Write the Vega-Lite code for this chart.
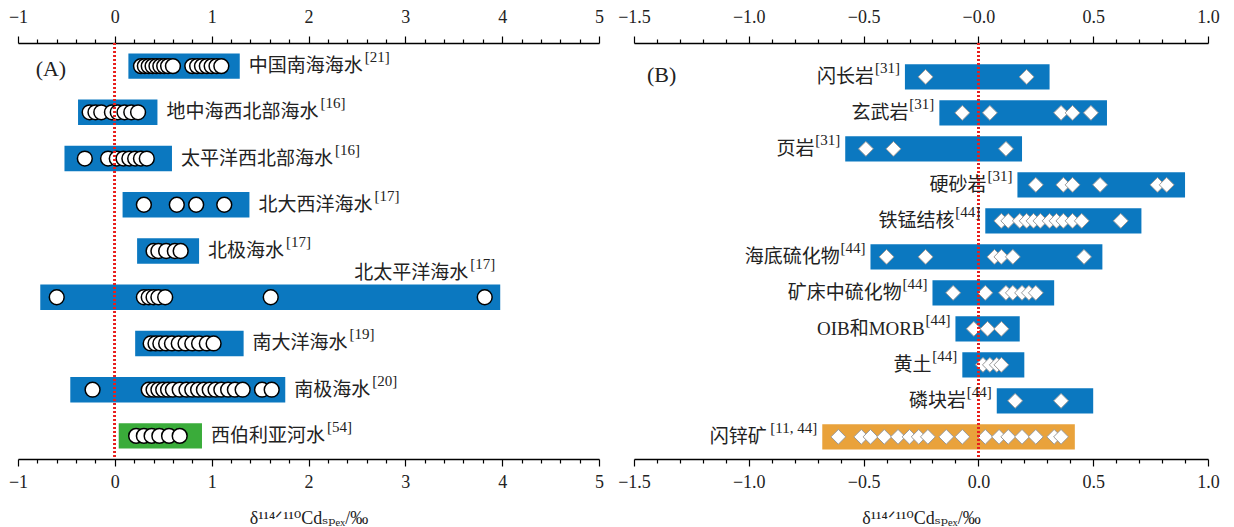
{
  "$schema": "https://vega.github.io/schema/vega-lite/v6.json",
  "background": "white",
  "padding": {"left": 8, "top": 8, "right": 0, "bottom": 0},
  "bounds": "flush",
  "spacing": 35,
  "config": {
    "view": {"stroke": null},
    "axis": {
      "grid": false,
      "domainColor": "#000",
      "domainWidth": 1.5,
      "tickColor": "#000",
      "tickWidth": 1.2,
      "tickSize": 7,
      "labelFont": "Liberation Serif",
      "labelFontSize": 18,
      "labelColor": "#222",
      "labelFlush": false,
      "labelOverlap": false,
      "labelBound": false,
      "labelPadding": 6,
      "titleFont": "Liberation Serif, DejaVu Serif",
      "titleFontSize": 18,
      "titleFontWeight": "normal",
      "titleColor": "#222"
    }
  },
  "datasets": {
    "barsA": [
      {"cat": "中国南海海水", "lo": 0.14, "hi": 1.29, "c": "blue", "ref": "[21]"},
      {"cat": "地中海西北部海水", "lo": -0.38, "hi": 0.44, "c": "blue", "ref": "[16]"},
      {"cat": "太平洋西北部海水", "lo": -0.52, "hi": 0.59, "c": "blue", "ref": "[16]"},
      {"cat": "北大西洋海水", "lo": 0.08, "hi": 1.39, "c": "blue", "ref": "[17]"},
      {"cat": "北极海水", "lo": 0.23, "hi": 0.87, "c": "blue", "ref": "[17]"},
      {"cat": "北太平洋海水", "lo": -0.77, "hi": 3.98, "c": "blue", "ref": "[17]"},
      {"cat": "南大洋海水", "lo": 0.21, "hi": 1.33, "c": "blue", "ref": "[19]"},
      {"cat": "南极海水", "lo": -0.46, "hi": 1.76, "c": "blue", "ref": "[20]"},
      {"cat": "西伯利亚河水", "lo": 0.04, "hi": 0.9, "c": "green", "ref": "[54]"}
    ],
    "ptsA": [
      {"cat": "中国南海海水", "v": 0.27}, {"cat": "中国南海海水", "v": 0.31}, {"cat": "中国南海海水", "v": 0.35}, {"cat": "中国南海海水", "v": 0.39}, {"cat": "中国南海海水", "v": 0.43}, {"cat": "中国南海海水", "v": 0.47}, {"cat": "中国南海海水", "v": 0.51}, {"cat": "中国南海海水", "v": 0.55}, {"cat": "中国南海海水", "v": 0.6}, {"cat": "中国南海海水", "v": 0.8}, {"cat": "中国南海海水", "v": 0.85}, {"cat": "中国南海海水", "v": 0.9}, {"cat": "中国南海海水", "v": 0.95}, {"cat": "中国南海海水", "v": 1.0}, {"cat": "中国南海海水", "v": 1.05}, {"cat": "中国南海海水", "v": 1.1},
      {"cat": "地中海西北部海水", "v": -0.26}, {"cat": "地中海西北部海水", "v": -0.2}, {"cat": "地中海西北部海水", "v": -0.14}, {"cat": "地中海西北部海水", "v": -0.03}, {"cat": "地中海西北部海水", "v": 0.03}, {"cat": "地中海西北部海水", "v": 0.1}, {"cat": "地中海西北部海水", "v": 0.17}, {"cat": "地中海西北部海水", "v": 0.24},
      {"cat": "太平洋西北部海水", "v": -0.31}, {"cat": "太平洋西北部海水", "v": -0.07}, {"cat": "太平洋西北部海水", "v": 0.02}, {"cat": "太平洋西北部海水", "v": 0.09}, {"cat": "太平洋西北部海水", "v": 0.15}, {"cat": "太平洋西北部海水", "v": 0.21}, {"cat": "太平洋西北部海水", "v": 0.27}, {"cat": "太平洋西北部海水", "v": 0.33},
      {"cat": "北大西洋海水", "v": 0.3}, {"cat": "北大西洋海水", "v": 0.64}, {"cat": "北大西洋海水", "v": 0.84}, {"cat": "北大西洋海水", "v": 1.13},
      {"cat": "北极海水", "v": 0.4}, {"cat": "北极海水", "v": 0.45}, {"cat": "北极海水", "v": 0.53}, {"cat": "北极海水", "v": 0.62}, {"cat": "北极海水", "v": 0.68},
      {"cat": "北太平洋海水", "v": -0.6}, {"cat": "北太平洋海水", "v": 0.3}, {"cat": "北太平洋海水", "v": 0.35}, {"cat": "北太平洋海水", "v": 0.4}, {"cat": "北太平洋海水", "v": 0.45}, {"cat": "北太平洋海水", "v": 0.52}, {"cat": "北太平洋海水", "v": 1.61}, {"cat": "北太平洋海水", "v": 3.82},
      {"cat": "南大洋海水", "v": 0.37}, {"cat": "南大洋海水", "v": 0.42}, {"cat": "南大洋海水", "v": 0.47}, {"cat": "南大洋海水", "v": 0.53}, {"cat": "南大洋海水", "v": 0.59}, {"cat": "南大洋海水", "v": 0.66}, {"cat": "南大洋海水", "v": 0.73}, {"cat": "南大洋海水", "v": 0.8}, {"cat": "南大洋海水", "v": 0.87}, {"cat": "南大洋海水", "v": 0.95}, {"cat": "南大洋海水", "v": 1.02},
      {"cat": "南极海水", "v": -0.23}, {"cat": "南极海水", "v": 0.35}, {"cat": "南极海水", "v": 0.4}, {"cat": "南极海水", "v": 0.45}, {"cat": "南极海水", "v": 0.5}, {"cat": "南极海水", "v": 0.55}, {"cat": "南极海水", "v": 0.6}, {"cat": "南极海水", "v": 0.67}, {"cat": "南极海水", "v": 0.74}, {"cat": "南极海水", "v": 0.8}, {"cat": "南极海水", "v": 0.86}, {"cat": "南极海水", "v": 0.92}, {"cat": "南极海水", "v": 0.98}, {"cat": "南极海水", "v": 1.04}, {"cat": "南极海水", "v": 1.1}, {"cat": "南极海水", "v": 1.17}, {"cat": "南极海水", "v": 1.24}, {"cat": "南极海水", "v": 1.32}, {"cat": "南极海水", "v": 1.52}, {"cat": "南极海水", "v": 1.62},
      {"cat": "西伯利亚河水", "v": 0.22}, {"cat": "西伯利亚河水", "v": 0.3}, {"cat": "西伯利亚河水", "v": 0.38}, {"cat": "西伯利亚河水", "v": 0.46}, {"cat": "西伯利亚河水", "v": 0.56}, {"cat": "西伯利亚河水", "v": 0.67}
    ],
    "barsB": [
      {"cat": "闪长岩", "lo": -0.32, "hi": 0.31, "c": "blue", "ref": "[31]"},
      {"cat": "玄武岩", "lo": -0.17, "hi": 0.56, "c": "blue", "ref": "[31]"},
      {"cat": "页岩", "lo": -0.58, "hi": 0.19, "c": "blue", "ref": "[31]"},
      {"cat": "硬砂岩", "lo": 0.17, "hi": 0.9, "c": "blue", "ref": "[31]"},
      {"cat": "铁锰结核", "lo": 0.03, "hi": 0.71, "c": "blue", "ref": "[44]"},
      {"cat": "海底硫化物", "lo": -0.47, "hi": 0.54, "c": "blue", "ref": "[44]"},
      {"cat": "矿床中硫化物", "lo": -0.2, "hi": 0.33, "c": "blue", "ref": "[44]"},
      {"cat": "OIB和MORB", "lo": -0.1, "hi": 0.18, "c": "blue", "ref": "[44]"},
      {"cat": "黄土", "lo": -0.07, "hi": 0.2, "c": "blue", "ref": "[44]"},
      {"cat": "磷块岩", "lo": 0.08, "hi": 0.5, "c": "blue", "ref": "[44]"},
      {"cat": "闪锌矿", "lo": -0.68, "hi": 0.42, "c": "orange", "ref": "[11, 44]"}
    ],
    "ptsB": [
      {"cat": "闪长岩", "v": -0.23}, {"cat": "闪长岩", "v": 0.21},
      {"cat": "玄武岩", "v": -0.07}, {"cat": "玄武岩", "v": 0.05}, {"cat": "玄武岩", "v": 0.36}, {"cat": "玄武岩", "v": 0.41}, {"cat": "玄武岩", "v": 0.49},
      {"cat": "页岩", "v": -0.49}, {"cat": "页岩", "v": -0.37}, {"cat": "页岩", "v": 0.12},
      {"cat": "硬砂岩", "v": 0.25}, {"cat": "硬砂岩", "v": 0.37}, {"cat": "硬砂岩", "v": 0.41}, {"cat": "硬砂岩", "v": 0.53}, {"cat": "硬砂岩", "v": 0.78}, {"cat": "硬砂岩", "v": 0.82},
      {"cat": "铁锰结核", "v": 0.1}, {"cat": "铁锰结核", "v": 0.13}, {"cat": "铁锰结核", "v": 0.18}, {"cat": "铁锰结核", "v": 0.21}, {"cat": "铁锰结核", "v": 0.24}, {"cat": "铁锰结核", "v": 0.27}, {"cat": "铁锰结核", "v": 0.31}, {"cat": "铁锰结核", "v": 0.34}, {"cat": "铁锰结核", "v": 0.37}, {"cat": "铁锰结核", "v": 0.41}, {"cat": "铁锰结核", "v": 0.45}, {"cat": "铁锰结核", "v": 0.62},
      {"cat": "海底硫化物", "v": -0.4}, {"cat": "海底硫化物", "v": -0.23}, {"cat": "海底硫化物", "v": 0.07}, {"cat": "海底硫化物", "v": 0.1}, {"cat": "海底硫化物", "v": 0.15}, {"cat": "海底硫化物", "v": 0.46},
      {"cat": "矿床中硫化物", "v": -0.11}, {"cat": "矿床中硫化物", "v": 0.03}, {"cat": "矿床中硫化物", "v": 0.12}, {"cat": "矿床中硫化物", "v": 0.15}, {"cat": "矿床中硫化物", "v": 0.19}, {"cat": "矿床中硫化物", "v": 0.22}, {"cat": "矿床中硫化物", "v": 0.25},
      {"cat": "OIB和MORB", "v": -0.02}, {"cat": "OIB和MORB", "v": 0.04}, {"cat": "OIB和MORB", "v": 0.1},
      {"cat": "黄土", "v": 0.02}, {"cat": "黄土", "v": 0.05}, {"cat": "黄土", "v": 0.08}, {"cat": "黄土", "v": 0.1},
      {"cat": "磷块岩", "v": 0.16}, {"cat": "磷块岩", "v": 0.36},
      {"cat": "闪锌矿", "v": -0.61}, {"cat": "闪锌矿", "v": -0.51}, {"cat": "闪锌矿", "v": -0.47}, {"cat": "闪锌矿", "v": -0.41}, {"cat": "闪锌矿", "v": -0.35}, {"cat": "闪锌矿", "v": -0.3}, {"cat": "闪锌矿", "v": -0.26}, {"cat": "闪锌矿", "v": -0.22}, {"cat": "闪锌矿", "v": -0.14}, {"cat": "闪锌矿", "v": -0.07}, {"cat": "闪锌矿", "v": 0.03}, {"cat": "闪锌矿", "v": 0.09}, {"cat": "闪锌矿", "v": 0.13}, {"cat": "闪锌矿", "v": 0.19}, {"cat": "闪锌矿", "v": 0.25}, {"cat": "闪锌矿", "v": 0.33}, {"cat": "闪锌矿", "v": 0.36}
    ]
  },
  "hconcat": [
    {
      "width": 581,
      "height": 416,
      "resolve": {"axis": {"x": "independent"}},
      "layer": [
        {
          "data": {"name": "barsA"},
          "mark": {"type": "bar", "orient": "horizontal"},
          "encoding": {
            "y": {"field": "cat", "type": "nominal", "sort": null, "axis": null,
                  "scale": {"domain": ["中国南海海水", "地中海西北部海水", "太平洋西北部海水", "北大西洋海水", "北极海水", "北太平洋海水", "南大洋海水", "南极海水", "西伯利亚河水"], "paddingInner": 0.45, "paddingOuter": 0.225}},
            "x": {"field": "lo", "type": "quantitative", "title": null,
                  "scale": {"domain": [-1, 5], "nice": false, "zero": false},
                  "axis": {"orient": "top", "values": [-1, 0, 1, 2, 3, 4, 5], "format": "d", "labelPadding": 10}},
            "x2": {"field": "hi"},
            "color": {"field": "c", "type": "nominal", "legend": null,
                      "scale": {"domain": ["blue", "green", "orange"], "range": ["#0b78c0", "#3aac3a", "#e9a23b"]}}
          }
        },
        {
          "data": {"name": "ptsA"},
          "mark": {"type": "point", "shape": "circle", "filled": true, "fill": "white", "stroke": "#000", "strokeWidth": 1.5, "size": 220, "opacity": 1},
          "encoding": {
            "y": {"field": "cat", "type": "nominal", "sort": null, "axis": null},
            "x": {"field": "v", "type": "quantitative",
                  "title": "δ¹¹⁴ᐟ¹¹⁰Cdₛₚₑₓ/‰",
                  "axis": {"orient": "bottom", "values": [-1, 0, 1, 2, 3, 4, 5], "format": "d", "labelPadding": 7, "titlePadding": 18}}
          }
        },
        {
          "data": {"name": "barsA"},
          "mark": {"type": "rule", "color": "#e8201c", "strokeWidth": 2.2, "strokeDash": [2, 2]},
          "encoding": {
            "x": {"datum": 0, "type": "quantitative", "axis": null}
          }
        },
        {
          "data": {"name": "barsA"},
          "transform": [{"filter": "datum.cat !== '北太平洋海水'"}],
          "mark": {"type": "text", "align": "left", "baseline": "middle", "dx": 9, "font": "Liberation Serif, Noto Sans CJK SC", "fontSize": 19, "color": "#222"},
          "encoding": {
            "y": {"field": "cat", "type": "nominal", "sort": null, "axis": null},
            "x": {"field": "hi", "type": "quantitative", "title": null,
                  "axis": {"orient": "top", "values": [-0.8, -0.6, -0.4, -0.2, 0.2, 0.4, 0.6, 0.8, 1.2, 1.4, 1.6, 1.8, 2.2, 2.4, 2.6, 2.8, 3.2, 3.4, 3.6, 3.8, 4.2, 4.4, 4.6, 4.8], "labels": false, "tickSize": 4, "domain": false}},
            "text": {"field": "cat"}
          }
        },
        {
          "data": {"name": "barsA"},
          "transform": [{"filter": "datum.cat !== '北太平洋海水'"}],
          "mark": {"type": "text", "align": "left", "baseline": "middle", "dx": {"expr": "11 + length(datum.cat) * 19"}, "dy": -9, "font": "Liberation Serif", "fontSize": 15, "color": "#222"},
          "encoding": {
            "y": {"field": "cat", "type": "nominal", "sort": null, "axis": null},
            "x": {"field": "hi", "type": "quantitative", "title": null,
                  "axis": {"orient": "bottom", "values": [-0.8, -0.6, -0.4, -0.2, 0.2, 0.4, 0.6, 0.8, 1.2, 1.4, 1.6, 1.8, 2.2, 2.4, 2.6, 2.8, 3.2, 3.4, 3.6, 3.8, 4.2, 4.4, 4.6, 4.8], "labels": false, "tickSize": 4, "domain": false}},
            "text": {"field": "ref"}
          }
        },
        {
          "data": {"name": "barsA"},
          "transform": [{"filter": "datum.cat === '北太平洋海水'"}],
          "mark": {"type": "text", "align": "right", "baseline": "middle", "dx": -32, "dy": -24, "font": "Liberation Serif, Noto Sans CJK SC", "fontSize": 19, "color": "#222"},
          "encoding": {
            "y": {"field": "cat", "type": "nominal", "sort": null, "axis": null},
            "x": {"field": "hi", "type": "quantitative", "axis": null},
            "text": {"field": "cat"}
          }
        },
        {
          "data": {"name": "barsA"},
          "transform": [{"filter": "datum.cat === '北太平洋海水'"}],
          "mark": {"type": "text", "align": "right", "baseline": "middle", "dx": -5, "dy": -33, "font": "Liberation Serif", "fontSize": 15, "color": "#222"},
          "encoding": {
            "y": {"field": "cat", "type": "nominal", "sort": null, "axis": null},
            "x": {"field": "hi", "type": "quantitative", "axis": null},
            "text": {"field": "ref"}
          }
        },
        {
          "data": {"values": [{"t": "(A)"}]},
          "mark": {"type": "text", "align": "center", "baseline": "middle", "dy": 3, "font": "Liberation Serif", "fontSize": 22, "color": "#222"},
          "encoding": {
            "x": {"datum": -0.66, "type": "quantitative", "axis": null},
            "y": {"datum": "中国南海海水", "type": "nominal", "axis": null},
            "text": {"field": "t"}
          }
        }
      ]
    },
    {
      "width": 574,
      "height": 416,
      "resolve": {"axis": {"x": "independent"}},
      "layer": [
        {
          "data": {"name": "barsB"},
          "mark": {"type": "bar", "orient": "horizontal"},
          "encoding": {
            "y": {"field": "cat", "type": "nominal", "sort": null, "axis": null,
                  "scale": {"domain": ["闪长岩", "玄武岩", "页岩", "硬砂岩", "铁锰结核", "海底硫化物", "矿床中硫化物", "OIB和MORB", "黄土", "磷块岩", "闪锌矿"], "paddingInner": 0.3, "paddingOuter": 0.428, "align": 0.69}},
            "x": {"field": "lo", "type": "quantitative", "title": null,
                  "scale": {"domain": [-1.5, 1.0], "nice": false, "zero": false},
                  "axis": {"orient": "top", "values": [-1.5, -1.0, -0.5, 0, 0.5, 1.0], "labelPadding": 10, "labelExpr": "datum.value === 0 ? '−0.0' : format(datum.value, '.1f')"}},
            "x2": {"field": "hi"},
            "color": {"field": "c", "type": "nominal", "legend": null,
                      "scale": {"domain": ["blue", "green", "orange"], "range": ["#0b78c0", "#3aac3a", "#e9a23b"]}}
          }
        },
        {
          "data": {"name": "ptsB"},
          "mark": {"type": "point", "shape": "diamond", "filled": true, "fill": "white", "stroke": "#999", "strokeWidth": 1, "size": 220, "opacity": 1},
          "encoding": {
            "y": {"field": "cat", "type": "nominal", "sort": null, "axis": null},
            "x": {"field": "v", "type": "quantitative",
                  "title": "δ¹¹⁴ᐟ¹¹⁰Cdₛₚₑₓ/‰",
                  "axis": {"orient": "bottom", "values": [-1.5, -1.0, -0.5, 0, 0.5, 1.0], "format": ".1f", "labelPadding": 7, "titlePadding": 18}}
          }
        },
        {
          "data": {"name": "barsB"},
          "mark": {"type": "rule", "color": "#e8201c", "strokeWidth": 2.2, "strokeDash": [2, 2]},
          "encoding": {
            "x": {"datum": 0, "type": "quantitative", "axis": null}
          }
        },
        {
          "data": {"name": "barsB"},
          "mark": {"type": "text", "align": "right", "baseline": "middle", "dx": {"expr": "-(6 + length(datum.ref) * 6.2)"}, "font": "Liberation Serif, Noto Sans CJK SC", "fontSize": 19, "color": "#222"},
          "encoding": {
            "y": {"field": "cat", "type": "nominal", "sort": null, "axis": null},
            "x": {"field": "lo", "type": "quantitative", "title": null,
                  "axis": {"orient": "top", "values": [-1.4, -1.3, -1.2, -1.1, -0.9, -0.8, -0.7, -0.6, -0.4, -0.3, -0.2, -0.1, 0.1, 0.2, 0.3, 0.4, 0.6, 0.7, 0.8, 0.9], "labels": false, "tickSize": 4, "domain": false}},
            "text": {"field": "cat"}
          }
        },
        {
          "data": {"name": "barsB"},
          "mark": {"type": "text", "align": "right", "baseline": "middle", "dx": -5, "dy": -9, "font": "Liberation Serif", "fontSize": 15, "color": "#222"},
          "encoding": {
            "y": {"field": "cat", "type": "nominal", "sort": null, "axis": null},
            "x": {"field": "lo", "type": "quantitative", "title": null,
                  "axis": {"orient": "bottom", "values": [-1.4, -1.3, -1.2, -1.1, -0.9, -0.8, -0.7, -0.6, -0.4, -0.3, -0.2, -0.1, 0.1, 0.2, 0.3, 0.4, 0.6, 0.7, 0.8, 0.9], "labels": false, "tickSize": 4, "domain": false}},
            "text": {"field": "ref"}
          }
        },
        {
          "data": {"values": [{"t": "(B)"}]},
          "mark": {"type": "text", "align": "center", "baseline": "middle", "dy": -2, "font": "Liberation Serif", "fontSize": 22, "color": "#222"},
          "encoding": {
            "x": {"datum": -1.38, "type": "quantitative", "axis": null},
            "y": {"datum": "闪长岩", "type": "nominal", "axis": null},
            "text": {"field": "t"}
          }
        }
      ]
    }
  ]
}
